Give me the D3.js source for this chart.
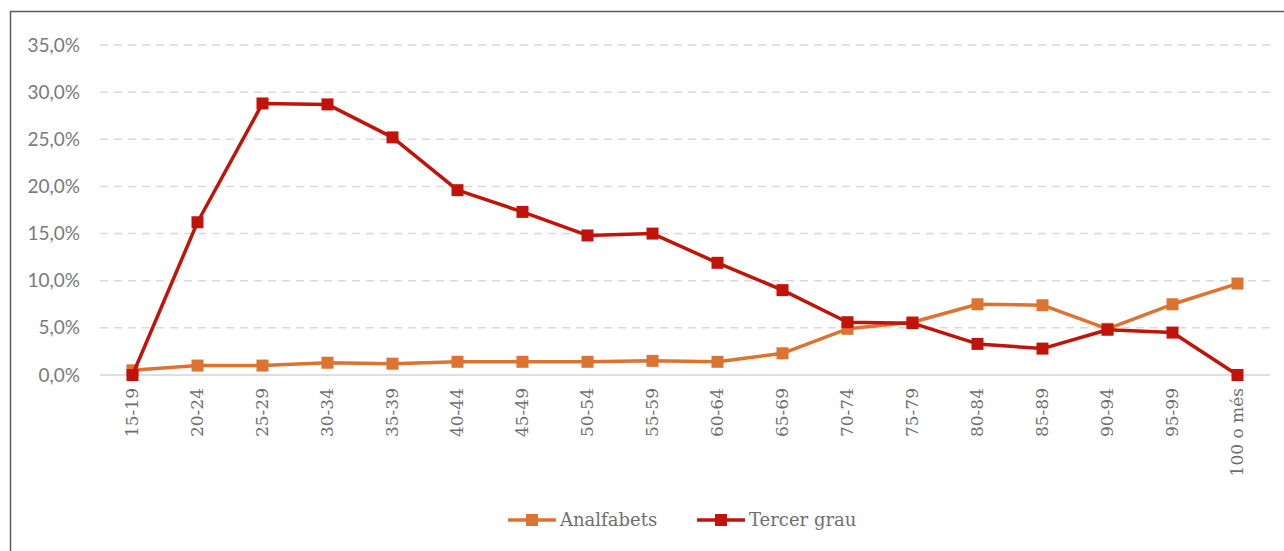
<!DOCTYPE html>
<html>
<head>
<meta charset="utf-8">
<script src="https://cdn.jsdelivr.net/npm/d3@7"></script>
<style>
  body { margin: 0; background: #fff; }
  .axis-y text { font-family: Lato, "Open Sans", sans-serif; font-size: 19px; fill: #7a7a7a; }
  .axis-x text { font-family: "DejaVu Serif", "Liberation Serif", serif; font-size: 17px; fill: #6e6e6e; }
  .legend text { font-family: "DejaVu Serif", "Liberation Serif", serif; font-size: 18px; fill: #6e6e6e; }
</style>
</head>
<body>
<div id="chart"></div>
<script>
var categories = ["15-19", "20-24", "25-29", "30-34", "35-39", "40-44", "45-49", "50-54", "55-59",
  "60-64", "65-69", "70-74", "75-79", "80-84", "85-89", "90-94", "95-99", "100 o més"];
var analfabets = [0.5, 1.0, 1.0, 1.3, 1.2, 1.4, 1.4, 1.4, 1.5, 1.4, 2.3, 4.9, 5.6, 7.5, 7.4, 4.9, 7.5, 9.7];
var tercerGrau = [0.0, 16.2, 28.8, 28.7, 25.2, 19.6, 17.3, 14.8, 15.0, 11.9, 9.0, 5.6, 5.5, 3.3, 2.8, 4.8, 4.5, 0.0];
var yTicks = [0, 5, 10, 15, 20, 25, 30, 35];

var series = [
  {name: "Analfabets", values: analfabets, color: "#DC7330"},
  {name: "Tercer grau", values: tercerGrau, color: "#C0140A"}
];

var svg = d3.select("#chart").append("svg").attr("width", 1284).attr("height", 551),
    margin = {top: 45, right: 14, bottom: 176, left: 100},
    width = 1284 - margin.left - margin.right,
    height = 551 - margin.top - margin.bottom;

// frame
svg.append("rect")
    .attr("x", 10.5).attr("y", 11.5)
    .attr("width", 1300).attr("height", 600)
    .attr("fill", "none").attr("stroke", "#5a5a5a").attr("stroke-width", 1.5);

var x = d3.scaleBand().domain(categories).range([0, 1170]);
var y = d3.scaleLinear().domain([0, 35]).range([330, 0]);

var g = svg.append("g").attr("transform", "translate(" + margin.left + "," + margin.top + ")");

// gridlines
g.append("g").selectAll("line")
    .data(yTicks.filter(function(d) { return d > 0; }))
  .enter().append("line")
    .attr("x1", 0).attr("x2", 1170)
    .attr("y1", function(d) { return y(d); }).attr("y2", function(d) { return y(d); })
    .attr("stroke", "#d9d9d9").attr("stroke-width", 1.5)
    .attr("stroke-dasharray", "8,6");

g.append("line")
    .attr("x1", 0).attr("x2", 1170)
    .attr("y1", y(0)).attr("y2", y(0))
    .attr("stroke", "#d4d4d4").attr("stroke-width", 1.5);

// y axis
var yAxis = g.append("g")
    .attr("class", "axis-y")
    .call(d3.axisLeft(y).tickValues(yTicks).tickSize(0).tickPadding(20)
      .tickFormat(function(d) { return d.toFixed(1).replace(".", ",") + "%"; }));
yAxis.select(".domain").remove();

// x axis
var xAxis = g.append("g")
    .attr("class", "axis-x")
    .attr("transform", "translate(0," + y(0) + ")")
    .call(d3.axisBottom(x).tickSize(0));
xAxis.select(".domain").remove();
xAxis.selectAll("text")
    .attr("transform", "rotate(-90)")
    .attr("x", -13).attr("y", 0).attr("dy", "0.35em")
    .style("text-anchor", "end");

var line = d3.line()
    .x(function(d, i) { return x(categories[i]) + x.bandwidth() / 2; })
    .y(function(d) { return y(d); });

series.forEach(function(s) {
  g.append("path")
      .datum(s.values)
      .attr("fill", "none")
      .attr("stroke", s.color)
      .attr("stroke-width", 3.5)
      .attr("stroke-linejoin", "round")
      .attr("d", line);

  g.append("g").selectAll("rect")
      .data(s.values)
    .enter().append("rect")
      .attr("x", function(d, i) { return x(categories[i]) + x.bandwidth() / 2 - 6; })
      .attr("y", function(d) { return y(d) - 6; })
      .attr("width", 12).attr("height", 12)
      .attr("fill", s.color);
});

// legend
var legend = svg.append("g").attr("class", "legend")
    .attr("transform", "translate(508,520)");
var item = legend.selectAll("g")
    .data(series)
  .enter().append("g")
    .attr("transform", function(d, i) { return "translate(" + (i * 189) + ",0)"; });
item.append("line")
    .attr("x1", 0).attr("x2", 48)
    .attr("stroke", function(d) { return d.color; })
    .attr("stroke-width", 3.5);
item.append("rect")
    .attr("x", 18).attr("y", -6).attr("width", 12).attr("height", 12)
    .attr("fill", function(d) { return d.color; });
item.append("text")
    .attr("x", 52).attr("dy", "0.35em")
    .text(function(d) { return d.name; });
</script>
</body>
</html>
